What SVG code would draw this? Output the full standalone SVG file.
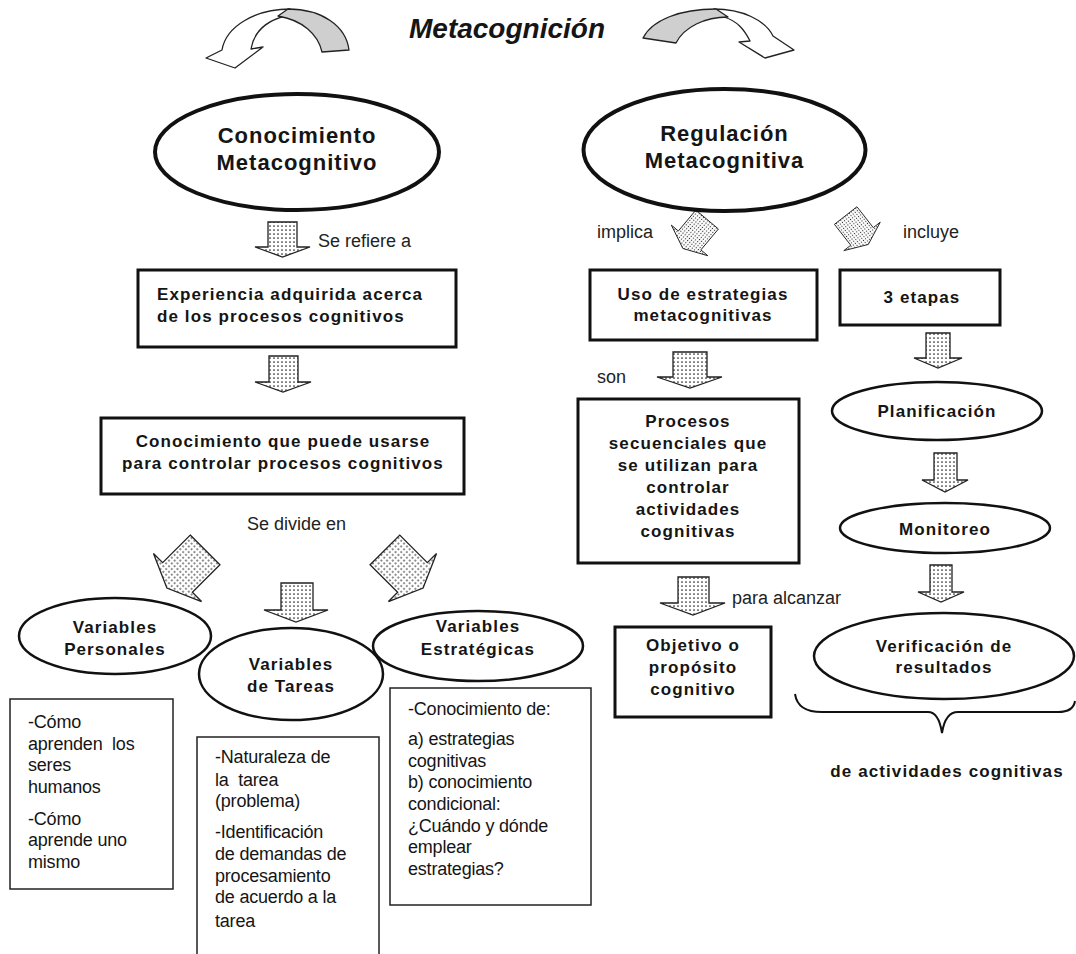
<svg xmlns="http://www.w3.org/2000/svg" xmlns:xlink="http://www.w3.org/1999/xlink" width="1076" height="954" viewBox="0 0 1076 954">
<defs>
<pattern id="dots" width="4" height="4" patternUnits="userSpaceOnUse">
<rect width="4" height="4" fill="#fff"/>
<circle cx="2" cy="2" r="0.85" fill="#222"/>
</pattern>
<path id="darrow" d="M -21 -27 L 21 -27 L 21 12 L 34 12 L 0 27 L -34 12 L -21 12 Z"/>
<style>
text{font-family:"Liberation Sans",Arial,sans-serif;fill:#151515}
.title{font-size:28px;font-weight:bold;font-style:italic;text-anchor:middle}
.big{font-size:22px;font-weight:bold;letter-spacing:1px;text-anchor:middle}
.b{font-size:17px;font-weight:bold;letter-spacing:1.1px;text-anchor:middle}
.bl{font-size:17px;font-weight:bold;letter-spacing:1.1px}
.lab{font-size:18px;fill:#222}
.t{font-size:18px;letter-spacing:-0.2px;white-space:pre}
.thick{fill:#fff;stroke:#111;stroke-width:3}
.ell{fill:#fff;stroke:#111;stroke-width:2.5}
.ellbig{fill:#fff;stroke:#111;stroke-width:4}
.thin{fill:#fff;stroke:#222;stroke-width:1.5}
.barrow{fill:url(#dots);stroke:#222;stroke-width:1.3;stroke-linejoin:miter}
.curv{stroke:#222;stroke-width:1.3;stroke-linejoin:round}
</style>
</defs>
<rect width="1076" height="954" fill="#fff"/>

<g id="title">
<path class="curv" fill="#fff" d="M 290 9 C 256 9 226 26 222 50 L 206 58 L 235 68 L 263 47 L 251 49 C 254 32 266 21 285 16 Z"/>
<path class="curv" fill="#cfcfcf" d="M 288 9 C 322 9 346 26 349 50 L 322 52 C 318 34 302 20 278 16 Z"/>
<text class="title" x="507" y="38">Metacognición</text>
<path class="curv" fill="#fff" d="M 714 9 C 742 9 765 20 773 36 L 794 50 L 765 58 L 739 42 L 750 41 C 744 29 737 21 724 17 Z"/>
<path class="curv" fill="#cfcfcf" d="M 643 38 C 652 20 680 9 716 9 L 728 17 C 705 17 684 27 676 43 Z"/>
</g>

<g id="connectors">
<path class="barrow" d="M 268 222 L 297 222 L 297 247 L 310 247 L 282.5 257 L 255 247 L 268 247 Z"/>
<text class="lab" x="318" y="247">Se refiere a</text>
<path class="barrow" d="M 269 356 L 298 356 L 298 382 L 311 382 L 283 392 L 255 382 L 269 382 Z"/>
<text class="lab" x="247" y="530">Se divide en</text>
<use href="#darrow" class="barrow" transform="translate(186,569) rotate(45)"/>
<path class="barrow" d="M 281 583 L 313 583 L 313 610 L 328 610 L 296 622 L 264 610 L 281 610 Z"/>
<use href="#darrow" class="barrow" transform="translate(404,569) rotate(-45)"/>
<text class="lab" x="597" y="238">implica</text>
<use href="#darrow" class="barrow" transform="translate(695,234) rotate(40) scale(0.7)"/>
<use href="#darrow" class="barrow" transform="translate(857,230) rotate(-38) scale(0.68)"/>
<text class="lab" x="903" y="238">incluye</text>
<text class="lab" x="597" y="383">son</text>
<path class="barrow" d="M 673 352 L 707 352 L 707 377 L 722 377 L 690 388 L 657 377 L 673 377 Z"/>
<path class="barrow" d="M 926 333 L 950 333 L 950 358 L 962 358 L 938 368 L 914 358 L 926 358 Z"/>
<path class="barrow" d="M 934 453 L 957 453 L 957 480 L 968 480 L 945 492 L 922 480 L 934 480 Z"/>
<path class="barrow" d="M 930 565 L 952 565 L 952 592 L 964 592 L 941 602 L 918 592 L 930 592 Z"/>
<path class="barrow" d="M 678 577 L 709 577 L 709 603 L 725 603 L 693 615 L 660 603 L 678 603 Z"/>
<text class="lab" x="732" y="604">para alcanzar</text>
<path fill="none" stroke="#111" stroke-width="2" d="M 795 694 C 797 707 806 712 822 712 L 928 712 C 936 712 940 720 942 733 C 944 720 949 712 958 712 L 1058 712 C 1068 712 1074 708 1075 701"/>
<text class="b" x="947" y="777">de actividades cognitivas</text>
</g>

<g id="n-conocimiento">
<ellipse class="ellbig" cx="297" cy="152" rx="142" ry="58"/>
<text class="big" x="297" y="143">Conocimiento</text>
<text class="big" x="297" y="170">Metacognitivo</text>
</g>
<g id="n-regulacion">
<ellipse class="ellbig" cx="724.5" cy="150" rx="141" ry="61"/>
<text class="big" x="724.5" y="141">Regulación</text>
<text class="big" x="724.5" y="168">Metacognitiva</text>
</g>
<g id="n-experiencia">
<rect class="thick" x="138" y="270" width="318" height="77"/>
<text class="bl" x="157" y="300">Experiencia adquirida acerca</text>
<text class="bl" x="157" y="322">de los procesos cognitivos</text>
</g>
<g id="n-conoc-controlar">
<rect class="thick" x="101" y="418" width="363" height="76"/>
<text class="b" x="283" y="447">Conocimiento que puede usarse</text>
<text class="b" x="283" y="469">para controlar procesos cognitivos</text>
</g>
<g id="n-personales">
<ellipse class="ell" cx="115" cy="636" rx="96" ry="38"/>
<text class="b" x="115" y="633">Variables</text>
<text class="b" x="115" y="655">Personales</text>
</g>
<g id="n-tareas">
<ellipse class="ell" cx="291" cy="674" rx="92" ry="46"/>
<text class="b" x="291" y="670">Variables</text>
<text class="b" x="291" y="692">de Tareas</text>
</g>
<g id="n-estrategicas">
<ellipse class="ell" cx="478" cy="646" rx="105" ry="35"/>
<text class="b" x="478" y="632">Variables</text>
<text class="b" x="478" y="655">Estratégicas</text>
</g>
<g id="n-box-personales">
<rect class="thin" x="10" y="699" width="163" height="190"/>
<text class="t" x="28" y="728">-Cómo</text>
<text class="t" x="28" y="750" xml:space="preserve">aprenden  los</text>
<text class="t" x="28" y="771">seres</text>
<text class="t" x="28" y="793">humanos</text>
<text class="t" x="28" y="825">-Cómo</text>
<text class="t" x="28" y="846">aprende uno</text>
<text class="t" x="28" y="868">mismo</text>
</g>
<g id="n-box-tareas">
<rect class="thin" x="197" y="737" width="182" height="230"/>
<text class="t" x="215" y="763">-Naturaleza de</text>
<text class="t" x="215" y="786" xml:space="preserve">la  tarea</text>
<text class="t" x="215" y="807">(problema)</text>
<text class="t" x="215" y="838">-Identificación</text>
<text class="t" x="215" y="860">de demandas de</text>
<text class="t" x="215" y="882">procesamiento</text>
<text class="t" x="215" y="903">de acuerdo a la</text>
<text class="t" x="215" y="927">tarea</text>
</g>
<g id="n-box-estrategicas">
<rect class="thin" x="390" y="688" width="201" height="217"/>
<text class="t" x="408" y="715">-Conocimiento de:</text>
<text class="t" x="408" y="745">a) estrategias</text>
<text class="t" x="408" y="767">cognitivas</text>
<text class="t" x="408" y="788">b) conocimiento</text>
<text class="t" x="408" y="810">condicional:</text>
<text class="t" x="408" y="832">¿Cuándo y dónde</text>
<text class="t" x="408" y="853">emplear</text>
<text class="t" x="408" y="875">estrategias?</text>
</g>
<g id="n-uso">
<rect class="thick" x="590" y="270" width="227" height="70"/>
<text class="b" x="703" y="300">Uso de estrategias</text>
<text class="b" x="703" y="321">metacognitivas</text>
</g>
<g id="n-etapas">
<rect class="thick" x="840" y="270" width="160" height="55"/>
<text class="b" x="922" y="303">3 etapas</text>
</g>
<g id="n-procesos">
<rect class="thick" x="578" y="399" width="221" height="164"/>
<text class="b" x="688" y="427">Procesos</text>
<text class="b" x="688" y="449">secuenciales que</text>
<text class="b" x="688" y="471">se utilizan para</text>
<text class="b" x="688" y="493">controlar</text>
<text class="b" x="688" y="515">actividades</text>
<text class="b" x="688" y="537">cognitivas</text>
</g>
<g id="n-planificacion">
<ellipse class="ell" cx="937" cy="411" rx="105" ry="29"/>
<text class="b" x="937" y="417">Planificación</text>
</g>
<g id="n-monitoreo">
<ellipse class="ell" cx="945" cy="528" rx="105" ry="25"/>
<text class="b" x="945" y="535">Monitoreo</text>
</g>
<g id="n-objetivo">
<rect class="thick" x="615" y="627" width="156" height="90"/>
<text class="b" x="693" y="651">Objetivo o</text>
<text class="b" x="693" y="673">propósito</text>
<text class="b" x="693" y="695">cognitivo</text>
</g>
<g id="n-verificacion">
<ellipse class="ell" cx="944" cy="656" rx="130" ry="43"/>
<text class="b" x="944" y="652">Verificación de</text>
<text class="b" x="944" y="673">resultados</text>
</g>
</svg>
